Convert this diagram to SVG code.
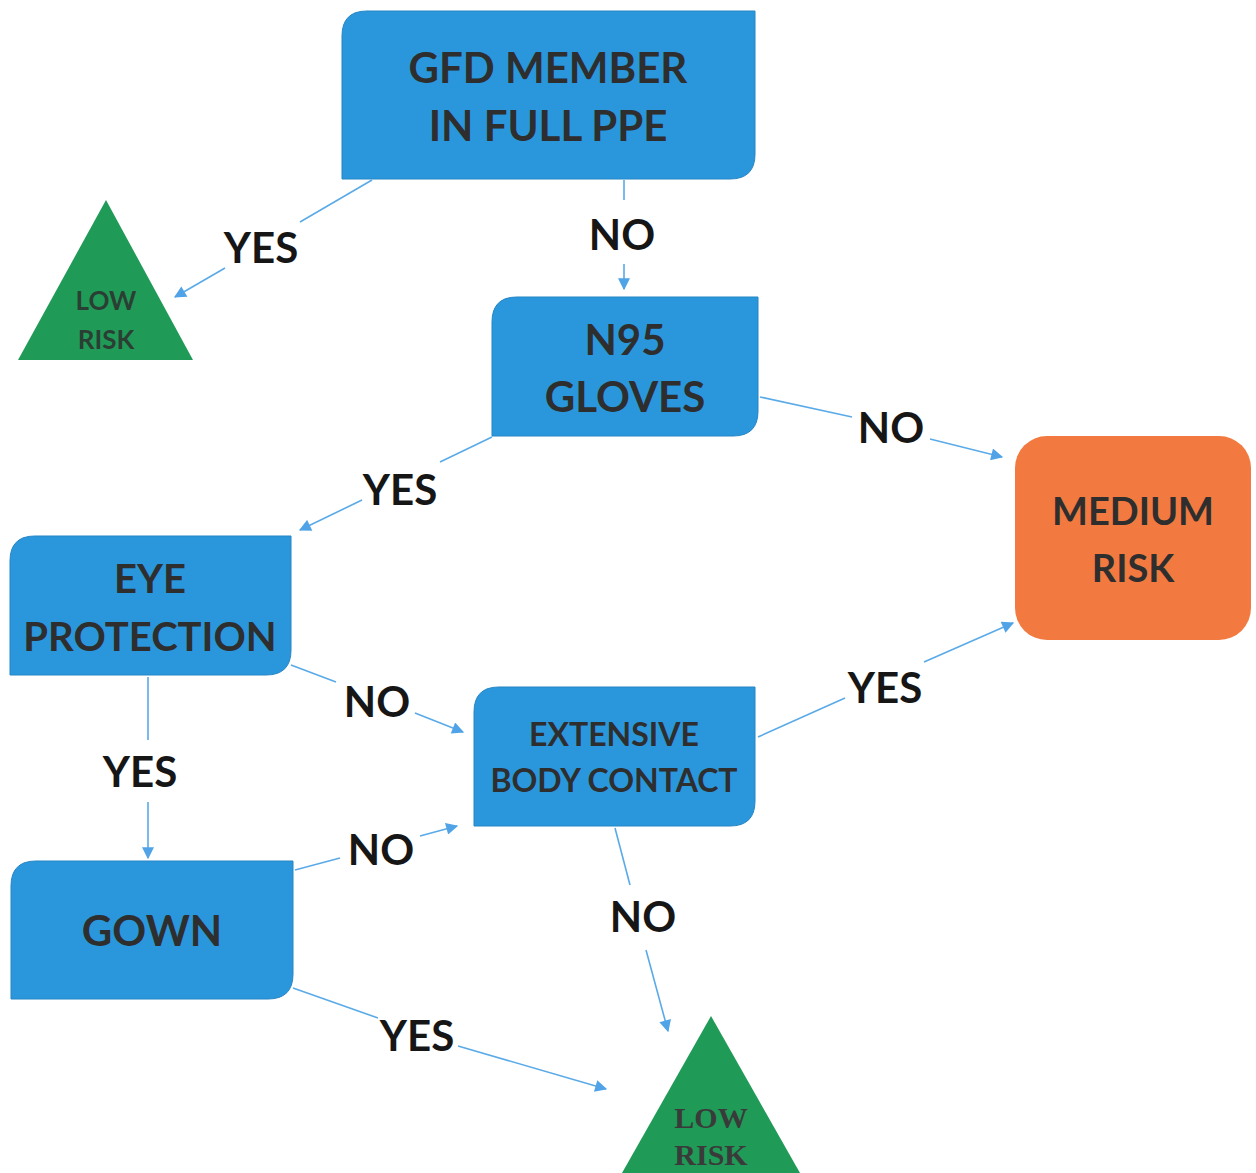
<svg xmlns="http://www.w3.org/2000/svg" width="1256" height="1173" viewBox="0 0 1256 1173">
<defs>
<marker id="ah" viewBox="0 0 10 10" refX="9" refY="5" markerWidth="14" markerHeight="12" markerUnits="userSpaceOnUse" orient="auto">
<path d="M0,0 L10,5 L0,10 z" fill="#4fa3e6"/>
</marker>
<style>
.box{fill:#2a97dd;stroke:#2585c4;stroke-width:1}
.nt{font-family:Lato,"Open Sans",sans-serif;font-weight:bold;fill:#2e2e2e;text-anchor:middle}
.lbl{font-family:Lato,"Open Sans",sans-serif;font-weight:bold;font-size:42px;fill:#161616;text-anchor:middle}
.c{stroke:#5aaae8;stroke-width:1.6;fill:none}
.ca{stroke:#5aaae8;stroke-width:1.6;fill:none;marker-end:url(#ah)}
</style>
</defs>
<rect width="1256" height="1173" fill="#ffffff"/>

<g id="gfd">
<path class="box" d="M367,11 H755 V154 Q755,179 730,179 H342 V36 Q342,11 367,11 Z"/>
<text class="nt" x="548" y="83" font-size="42">GFD MEMBER</text>
<text class="nt" x="548" y="141" font-size="42">IN FULL PPE</text>
</g>

<g id="low1">
<polygon points="106,200 193,360 18,360" fill="#1f9a57"/>
<text class="nt" x="106" y="310" font-size="26" fill-opacity="0.85">LOW</text>
<text class="nt" x="106" y="349" font-size="26" fill-opacity="0.85">RISK</text>
</g>

<g id="n95">
<path class="box" d="M517,297 H758 V411 Q758,436 733,436 H492 V322 Q492,297 517,297 Z"/>
<text class="nt" x="625" y="355" font-size="42">N95</text>
<text class="nt" x="625" y="412" font-size="42">GLOVES</text>
</g>

<g id="medium">
<rect x="1015" y="436" width="236" height="204" rx="32" ry="32" fill="#f27a40"/>
<text class="nt" x="1133" y="525" font-size="38">MEDIUM</text>
<text class="nt" x="1133" y="582" font-size="38">RISK</text>
</g>

<g id="eye">
<path class="box" d="M35,536 H291 V650 Q291,675 266,675 H10 V561 Q10,536 35,536 Z"/>
<text class="nt" x="150" y="593" font-size="40">EYE</text>
<text class="nt" x="150" y="651" font-size="40">PROTECTION</text>
</g>

<g id="extensive">
<path class="box" d="M499,687 H755 V801 Q755,826 730,826 H474 V712 Q474,687 499,687 Z"/>
<text class="nt" x="614" y="746" font-size="32">EXTENSIVE</text>
<text class="nt" x="614" y="792" font-size="32">BODY CONTACT</text>
</g>

<g id="gown">
<path class="box" d="M36,861 H293 V974 Q293,999 268,999 H11 V886 Q11,861 36,861 Z"/>
<text class="nt" x="152" y="946" font-size="42">GOWN</text>
</g>

<g id="low2">
<polygon points="711,1016 800,1173 622,1173" fill="#1f9a57"/>
<text x="711" y="1128" font-family="'Liberation Serif',serif" font-weight="bold" font-size="30" fill="#3a3a3a" text-anchor="middle">LOW</text>
<text x="711" y="1165" font-family="'Liberation Serif',serif" font-weight="bold" font-size="30" fill="#3a3a3a" text-anchor="middle">RISK</text>
</g>

<g id="connectors">
<line class="c" x1="372" y1="180" x2="300" y2="222"/>
<line class="ca" x1="225" y1="268" x2="175" y2="297"/>
<line class="c" x1="624" y1="180" x2="624" y2="200"/>
<line class="ca" x1="624" y1="264" x2="624" y2="289"/>
<line class="c" x1="760" y1="397" x2="852" y2="417"/>
<line class="ca" x1="930" y1="439" x2="1002" y2="457"/>
<line class="c" x1="492" y1="437" x2="440" y2="462"/>
<line class="ca" x1="362" y1="500" x2="300" y2="530"/>
<line class="c" x1="291" y1="665" x2="336" y2="682"/>
<line class="ca" x1="415" y1="713" x2="463" y2="732"/>
<line class="c" x1="148" y1="677" x2="148" y2="740"/>
<line class="ca" x1="148" y1="802" x2="148" y2="858"/>
<line class="c" x1="295" y1="870" x2="340" y2="858"/>
<line class="ca" x1="420" y1="836" x2="457" y2="826"/>
<line class="c" x1="758" y1="737" x2="845" y2="698"/>
<line class="ca" x1="924" y1="662" x2="1013" y2="623"/>
<line class="c" x1="615" y1="828" x2="630" y2="885"/>
<line class="ca" x1="646" y1="950" x2="668" y2="1031"/>
<line class="c" x1="293" y1="988" x2="378" y2="1018"/>
<line class="ca" x1="458" y1="1046" x2="606" y2="1089"/>
<text class="lbl" x="261" y="263">YES</text>
<text class="lbl" x="622" y="250">NO</text>
<text class="lbl" x="891" y="443">NO</text>
<text class="lbl" x="400" y="505">YES</text>
<text class="lbl" x="377" y="717">NO</text>
<text class="lbl" x="140" y="787">YES</text>
<text class="lbl" x="381" y="865">NO</text>
<text class="lbl" x="885" y="703">YES</text>
<text class="lbl" x="643" y="932">NO</text>
<text class="lbl" x="417" y="1051">YES</text>
</g>
</svg>
